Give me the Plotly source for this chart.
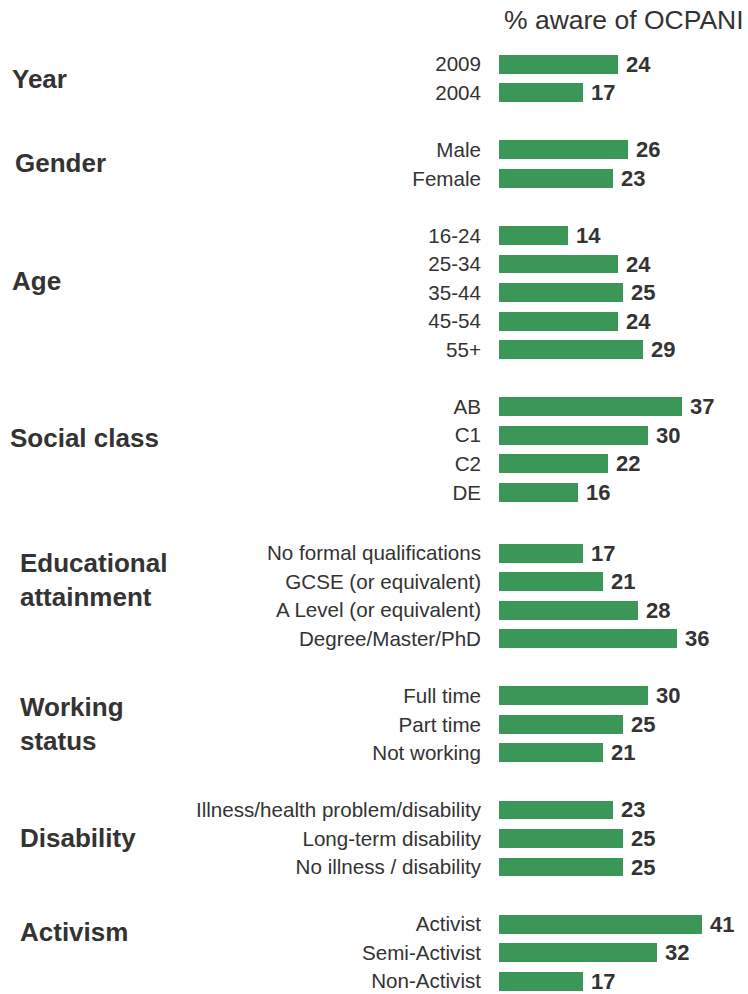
import plotly.graph_objects as go

# Survey breakdown: share aware of OCPANI, by respondent group
groups = ["Year", "Gender", "Age", "Social class", "Educational<br>attainment",
          "Working<br>status", "Disability", "Activism"]
year_labels = ["2009", "2004"]
year_values = [24, 17]
gender_labels = ["Male", "Female"]
gender_values = [26, 23]
age_labels = ["16-24", "25-34", "35-44", "45-54", "55+"]
age_values = [14, 24, 25, 24, 29]
class_labels = ["AB", "C1", "C2", "DE"]
class_values = [37, 30, 22, 16]
edu_labels = ["No formal qualifications", "GCSE (or equivalent)",
              "A Level (or equivalent)", "Degree/Master/PhD"]
edu_values = [17, 21, 28, 36]
work_labels = ["Full time", "Part time", "Not working"]
work_values = [30, 25, 21]
dis_labels = ["Illness/health problem/disability", "Long-term disability",
              "No illness / disability"]
dis_values = [23, 25, 25]
act_labels = ["Activist", "Semi-Activist", "Non-Activist"]
act_values = [41, 32, 17]

sections = [
    (year_labels, year_values), (gender_labels, gender_values),
    (age_labels, age_values), (class_labels, class_values),
    (edu_labels, edu_values), (work_labels, work_values),
    (dis_labels, dis_values), (act_labels, act_values),
]

# Layout of the rows: blank space (in rows) before each section,
# plus vertical nudge and left position of each section heading
gap_before = [0, 1, 1, 1, 1.13, 1, 1, 1]
head_nudge = [0, -0.05, -0.4, -0.4, -0.55, 0, 0, -0.72]
head_left_px = [10, 13, 10, 8, 18, 18, 18, 18]

GREEN = "#3b9758"
INK = "#333333"
FONT = "Liberation Sans, Arial, sans-serif"

W, H = 748, 994
ML, MR, MT, MB = 499, 0, 50, 0
PX_PER_UNIT = 4.95

rows, labels, values, heads = [], [], [], []
pos = -1.0
for i, (labs, vals) in enumerate(sections):
    pos += gap_before[i] + 1
    start = pos
    for j, (lab, val) in enumerate(zip(labs, vals)):
        if j:
            pos += 1
        rows.append(pos)
        labels.append(lab)
        values.append(val)
    heads.append((start + pos) / 2 + head_nudge[i])

fig = go.Figure()
fig.add_trace(go.Bar(
    x=values, y=rows, orientation="h", width=0.66,
    marker=dict(color=GREEN, line=dict(width=0)),
    hoverinfo="skip", showlegend=False,
))

annotations = []
for r, v in zip(rows, values):
    annotations.append(dict(
        x=v, y=r, xref="x", yref="y", text=str(v), showarrow=False,
        xanchor="left", yanchor="middle", xshift=6,
        font=dict(family=FONT, size=22, color=INK, weight="bold"),
    ))

plot_w = W - ML - MR
plot_h = H - MT - MB
for g, y, xl in zip(groups, heads, head_left_px):
    annotations.append(dict(
        x=(xl - ML) / plot_w, y=y, xref="paper", yref="y", text=g,
        showarrow=False, xanchor="left", yanchor="middle", align="left",
        font=dict(family=FONT, size=26, color=INK, weight="bold"),
    ))

annotations.append(dict(
    x=(502 - ML) / plot_w, y=1 + 30 / plot_h, xref="paper", yref="paper",
    text="% aware of OCPANI", showarrow=False, xanchor="left",
    yanchor="middle", font=dict(family=FONT, size=26.5, color=INK),
))

fig.update_layout(
    width=W, height=H,
    margin=dict(l=ML, r=MR, t=MT, b=MB, pad=0),
    paper_bgcolor="white", plot_bgcolor="white",
    annotations=annotations,
    bargap=0,
    xaxis=dict(range=[0, plot_w / PX_PER_UNIT], visible=False, fixedrange=True),
    yaxis=dict(
        range=[rows[-1] + 0.45, -0.5], tickmode="array", tickvals=rows,
        ticktext=labels, showgrid=False, zeroline=False, showline=False,
        ticks="", ticklabelstandoff=17,
        tickfont=dict(family=FONT, size=20.6, color=INK), fixedrange=True,
    ),
)

fig.write_html("out.html")
